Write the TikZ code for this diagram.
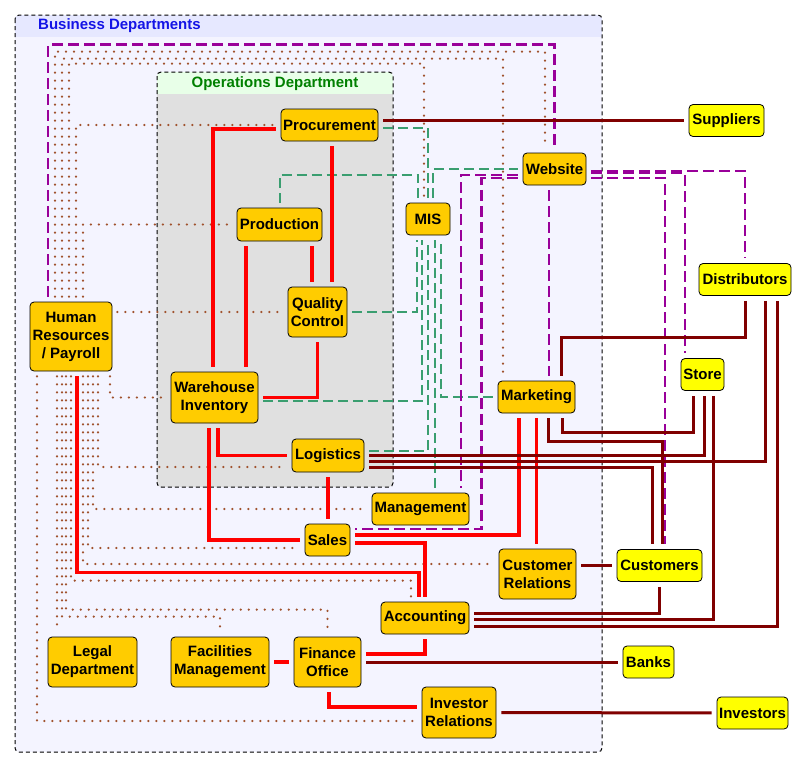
\documentclass[tikz,border=0pt]{standalone}
\usepackage{fontspec}
\setmainfont{Liberation Sans}
\usetikzlibrary{calc}
\definecolor{deptfill}{HTML}{FFCC00}
\definecolor{extfill}{HTML}{FFFF00}
\definecolor{bizbody}{HTML}{F4F4FF}
\definecolor{bizhead}{HTML}{E6E8FF}
\definecolor{opsbody}{HTML}{E0E0E0}
\definecolor{opshead}{HTML}{E8FFE8}
\definecolor{flowred}{HTML}{FF0000}
\definecolor{extred}{HTML}{800000}
\definecolor{misgreen}{HTML}{3A9E70}
\definecolor{webpurple}{HTML}{990099}
\definecolor{hrbrown}{HTML}{A0522D}
\definecolor{titleblue}{HTML}{1414E6}
\definecolor{titlegreen}{HTML}{008000}
\tikzset{
  deptbox/.style={draw=black, line width=0.8pt, rounded corners=4pt, align=center, inner sep=1pt,
    font=\fontsize{15}{18}\selectfont\bfseries},
  dept/.style={deptbox, fill=deptfill},
  ext/.style={deptbox, fill=extfill},
  groupframe/.style={draw=black, line width=1pt, dash pattern=on 4pt off 3pt, rounded corners=4pt},
  conn/.style={shorten <=5pt, shorten >=5pt},
  flow/.style={conn, draw=flowred, line width=3.5pt},
  trade/.style={conn, draw=extred, line width=3pt},
  info/.style={conn, draw=misgreen, line width=2pt, dash pattern=on 10pt off 5pt},
  webline/.style={conn, draw=webpurple, line width=2.5pt, dash pattern=on 11pt off 5pt},
  staff/.style={conn, draw=hrbrown, line width=2.4pt, line cap=round, dash pattern=on 0pt off 8pt},
  grouptitle/.style={font=\fontsize{15}{18}\selectfont\bfseries, inner sep=0pt}
}
\begin{document}
\begin{tikzpicture}[x=1pt, y=-1pt]
  \useasboundingbox[fill=white] (0,0) rectangle (806,769);
  % containers
  \begin{scope}
    \clip[rounded corners=4pt] (15,15) rectangle (602,752);
    \fill[bizbody] (15,15) rectangle (602,752);
    \fill[bizhead] (15,15) rectangle (602,37);
  \end{scope}
  \draw[groupframe] (15,15) rectangle (602,752);
  \begin{scope}
    \clip[rounded corners=4pt] (157,72) rectangle (393,487);
    \fill[opsbody] (157,72) rectangle (393,487);
    \fill[opshead] (157,72) rectangle (393,94);
  \end{scope}
  \draw[groupframe] (157,72) rectangle (393,487);
  \node[grouptitle, anchor=west, text=titleblue] (biztitle) at (38,26) {Business Departments};
  \node[grouptitle, text=titlegreen] (opstitle) at (275,84) {Operations Department};

  % departments
  \foreach \n/\x/\y/\w/\h/\t in {
      proc/329.5/125/97/32/Procurement,
      prod/279.5/224.5/85/33/Production,
      qc/317.5/312/59/50/{Quality\\Control},
      wh/214.5/397.5/87/51/{Warehouse\\Inventory},
      logi/328/455.5/72/33/Logistics,
      mis/428/219/44/32/MIS,
      web/554.5/169/63/32/Website,
      mkt/536.5/397/77/32/Marketing,
      mgmt/420.5/509/97/32/Management,
      sales/327.5/540/45/32/Sales,
      cr/537.5/574/77/50/{Customer\\Relations},
      acct/425/618/88/32/Accounting,
      legal/92.5/662/89/50/{Legal\\Department},
      fac/220/662/98/50/{Facilities\\Management},
      fin/327.5/662/67/50/{Finance\\Office},
      invr/459/712.5/74/51/{Investor\\Relations}}
    \node[dept, minimum width=\w pt, minimum height=\h pt] (\n) at (\x,\y) {\t};
  \node[dept, minimum width=82pt, minimum height=69pt] (hr) at (71,336.5) {Human\\Resources\\/ Payroll};

  % outside parties
  \foreach \n/\x/\y/\w/\t in {
      sup/726.5/120.5/75/Suppliers,
      dist/745/279.5/92/Distributors,
      store/702.5/374.5/43/Store,
      cust/659.5/565.5/85/Customers,
      banks/648.5/662/51/Banks,
      inv/752.5/713/71/Investors}
    \node[ext, minimum width=\w pt, minimum height=32pt] (\n) at (\x,\y) {\t};

  % human resources (dotted)
  \draw[staff] ($(hr.north)+(-16,0)$) |- ($(web.north)+(-9.5,-101)$) -- ($(web.north)+(-9.5,0)$);
  \draw[staff] ($(hr.north)+(-9,0)$) |- ($(mkt.north)+(-33.5,-322)$) -- ($(mkt.north)+(-33.5,0)$);
  \draw[staff] ($(hr.north)+(-2,0)$) |- ($(mis.north)+(-4,-139)$) -- ($(mis.north)+(-4,0)$);
  \draw[staff] ($(hr.north)+(5,0)$) |- (proc.west);
  \draw[staff] ($(hr.north)+(12,0)$) |- (prod.west);
  \draw[staff] (hr.east |- qc.west) -- (qc.west);
  \draw[staff] ($(hr.south)+(39,0)$) |- (wh.west);
  \draw[staff] ($(hr.south)+(27,0)$) |- ($(logi.west)+(0,11.5)$);
  \draw[staff] ($(hr.south)+(22,0)$) |- (mgmt.west);
  \draw[staff] ($(hr.south)+(17,0)$) |- ($(sales.west)+(0,8)$);
  \draw[staff] ($(hr.south)+(12,0)$) |- ($(cr.west)+(0,-10)$);
  \draw[staff] (hr.south) |- ($(acct.north)+(-14,-21)$) -- ($(acct.north)+(-14,0)$);
  \draw[staff] ($(hr.south)+(-5,0)$) |- ($(fin.north)+(0,-27)$) -- (fin.north);
  \draw[staff] ($(hr.south)+(-9,0)$) |- ($(fac.north)+(0,-20)$) -- (fac.north);
  \draw[staff] ($(hr.south)+(-14,0)$) -- ($(legal.north)+(-35.5,0)$);
  \draw[staff] ($(hr.south)+(-34,0)$) |- ($(invr.west)+(0,8.5)$);

  % information systems (green)
  \draw[info] ($(proc.east)+(0,3)$) -| (mis.north);
  \draw[info] (prod.north) |- ($(mis.north)+(-10,-28)$) -- ($(mis.north)+(-10,0)$);
  \draw[info] ($(mis.north)+(5,0)$) |- (web.west);
  \draw[info] (qc.east) -| ($(mis.south)+(-11,0)$);
  \draw[info] ($(wh.east)+(0,3.5)$) -| ($(mis.south)+(-6,0)$);
  \draw[info] ($(logi.east)+(0,-4.5)$) -| (mis.south);
  \draw[info] ($(mgmt.north)+(14.5,0)$) -- ($(mis.south)+(7,0)$);
  \draw[info] (mkt.west) -| ($(mis.south)+(13,0)$);

  % website (purple)
  \draw[webline] ($(hr.north)+(-23,0)$) |- ($(web.north)+(0,-108)$) -- (web.north);
  \draw[webline] ($(web.east)+(0,2)$) -| (dist.north);
  \draw[webline] ($(web.east)+(0,4)$) -| ($(store.north)+(-17.5,0)$);
  \draw[webline] ($(web.east)+(0,9)$) -| ($(cust.north)+(5.5,0)$);
  \draw[webline] ($(web.south)+(-5.5,0)$) -- ($(mkt.north)+(12.5,0)$);
  \draw[webline] ($(web.west)+(0,6)$) -| ($(mgmt.north)+(40.5,0)$);
  \draw[webline] ($(web.west)+(0,9)$) -| ($(sales.east)+(131,-11)$) -- ($(sales.east)+(0,-11)$);

  % work flow (red)
  \draw[flow] ($(proc.west)+(0,4)$) -| ($(wh.north)+(-1.5,0)$);
  \draw[flow] ($(proc.south)+(2.5,0)$) -- ($(qc.north)+(14.5,0)$);
  \draw[flow] ($(prod.south)+(-33.5,0)$) -- ($(wh.north)+(31.5,0)$);
  \draw[flow] ($(prod.south)+(32.5,0)$) -- ($(qc.north)+(-5.5,0)$);
  \draw[flow] (qc.south) |- (wh.east);
  \draw[flow] ($(wh.south)+(3.5,0)$) |- (logi.west);
  \draw[flow] ($(wh.south)+(-5.5,0)$) |- (sales.west);
  \draw[flow] (logi.south) -- (logi.south |- sales.north);
  \draw[flow] ($(mkt.south)+(-17.5,0)$) |- ($(sales.east)+(0,-5)$);
  \draw[flow] (mkt.south) -- (mkt.south |- cr.north);
  \draw[flow] ($(sales.east)+(0,3)$) -| (acct.north);
  \draw[flow] ($(hr.south)+(6,0)$) |- ($(acct.north)+(-6,-29)$) -- ($(acct.north)+(-6,0)$);
  \draw[flow] (acct.south) |- ($(fin.east)+(0,-8)$);
  \draw[flow] (fac.east) -- (fin.west);
  \draw[flow] ($(fin.south)+(1.5,0)$) |- ($(invr.west)+(0,-5.5)$);

  % outside trade (dark red)
  \draw[trade] (proc.east |- sup.west) -- (sup.west);
  \draw[trade] (dist.south) |- ($(mkt.north)+(24.5,-43)$) -- ($(mkt.north)+(24.5,0)$);
  \draw[trade] ($(dist.south)+(20,0)$) |- ($(logi.east)+(0,5.5)$);
  \draw[trade] ($(dist.south)+(32,0)$) |- ($(acct.east)+(0,8)$);
  \draw[trade] ($(logi.east)+(0,-0.5)$) -| ($(store.south)+(1.5,0)$);
  \draw[trade] ($(logi.east)+(0,11.5)$) -| ($(cust.north)+(-7.5,0)$);
  \draw[trade] ($(mkt.south)+(25.5,0)$) |- ($(store.south)+(-9.5,42)$) -- ($(store.south)+(-9.5,0)$);
  \draw[trade] ($(mkt.south)+(11.5,0)$) |- ($(cust.north)+(2.5,-108)$) -- ($(cust.north)+(2.5,0)$);
  \draw[trade] ($(store.south)+(10.5,0)$) |- ($(acct.east)+(0,1)$);
  \draw[trade] (cust.south) |- ($(acct.east)+(0,-5)$);
  \draw[trade] (cr.east |- cust.west) -- (cust.west);
  \draw[trade] (fin.east) -- (banks.west);
  \draw[trade] (invr.east) -- (inv.west);
\end{tikzpicture}
\end{document}
